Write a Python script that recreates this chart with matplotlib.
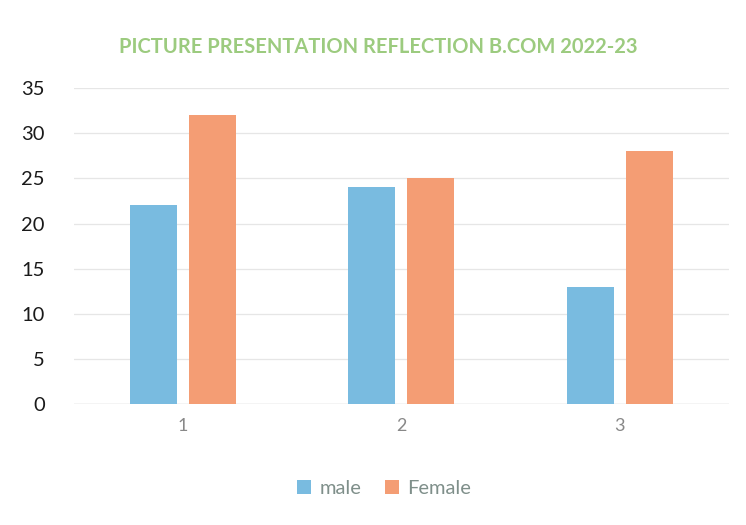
import matplotlib
matplotlib.use("Agg")
import matplotlib.pyplot as plt
import numpy as np

categories = ["1", "2", "3"]
male = [22, 24, 13]
female = [32, 25, 28]
series_names = ["male", "Female"]
yticks = [0, 5, 10, 15, 20, 25, 30, 35]
title = "PICTURE PRESENTATION REFLECTION B.COM 2022-23"

plt.rcParams['font.family'] = ['Lato', 'DejaVu Sans']

fig = plt.figure(figsize=(7.46, 5.25), dpi=100)
ax = fig.add_axes([0.099, 0.2305, 0.878, 0.6015])

x = np.arange(len(categories))
w = 0.215
off = 0.135
ax.bar(x - off, male, width=w, color='#79BBE0', label=series_names[0], zorder=3)
ax.bar(x + off, female, width=w, color='#F49D74', label=series_names[1], zorder=3)

ax.set_xlim(-0.5, len(categories) - 0.5)
ax.set_ylim(0, 35)
ax.set_yticks(yticks)
ax.set_yticklabels([str(t) for t in yticks], fontsize=14.5, color='#1a1a1a')
ax.set_xticks(x)
ax.set_xticklabels(categories, fontsize=13, color='#888888')
ax.tick_params(axis='both', length=0)
ax.tick_params(axis='y', pad=21)
ax.tick_params(axis='x', pad=10)
for s in ax.spines.values():
    s.set_visible(False)
ax.grid(axis='y', color='#E6E6E6', linewidth=0.9, zorder=0)
ax.axhline(0, color='#D9D9D9', linewidth=1, zorder=2)

fig.text(0.507, 0.91, title, ha='center', va='center', fontsize=14.5,
         fontweight='bold', color='#9CCB7F')

fig.legend(loc='center', bbox_to_anchor=(0.515, 0.07), ncol=2, frameon=False,
           fontsize=14.5, labelcolor='#7F8F8A', handlelength=0.7, handleheight=0.7,
           columnspacing=1.2, handletextpad=0.4)

fig.savefig("out.png", dpi=100)
